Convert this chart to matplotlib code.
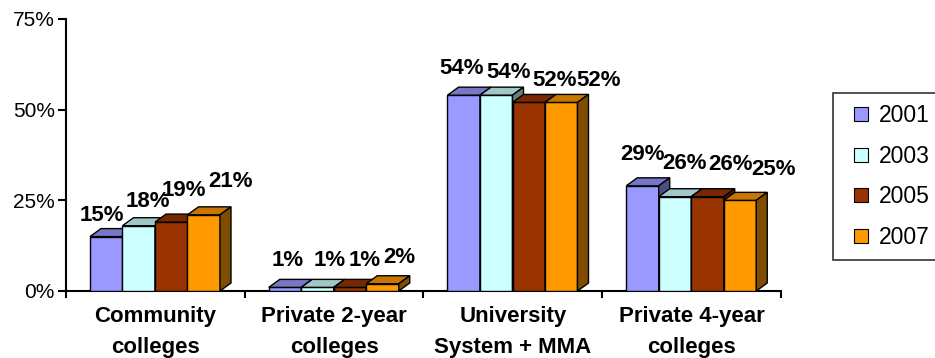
import matplotlib
matplotlib.use("Agg")
import matplotlib.pyplot as plt
from matplotlib.patches import Polygon, Rectangle
from matplotlib.lines import Line2D
from matplotlib.colors import to_rgb

plt.rcParams['font.family'] = ['Liberation Sans', 'DejaVu Sans']

categories = ["Community\ncolleges", "Private 2-year\ncolleges",
              "University\nSystem + MMA", "Private 4-year\ncolleges"]
years = ["2001", "2003", "2005", "2007"]
share_2001 = [15, 1, 54, 29]
share_2003 = [18, 1, 54, 26]
share_2005 = [19, 1, 52, 26]
share_2007 = [21, 2, 52, 25]
series = [share_2001, share_2003, share_2005, share_2007]
colors = ["#9999FF", "#CCFFFF", "#993300", "#FF9900"]
y_ticks = [0, 25, 50, 75]

# value-label placement relative to each bar's front top (pixels), [category][series]
label_shift_x = [[-4, 9, 13, 27],
                 [3, 12, 15, 17],
                 [-2, 12, 26, 37],
                 [0, 10, 23, 34]]
label_shift_y = [[21, 24, 32, 33],
                 [27, 27, 27, 26],
                 [27, 23, 22, 22],
                 [31, 33, 32, 31]]

W, H = 935, 358
fig = plt.figure(figsize=(W / 100, H / 100), dpi=100)
ax_l, ax_b, ax_w, ax_h = 66, 67, 715, 272
ax = fig.add_axes([ax_l / W, ax_b / H, ax_w / W, ax_h / H])
ax.set_xlim(0, len(categories))
ax.set_ylim(0, 75)

# pixel -> data scale factors
px_x = len(categories) / ax_w
px_y = 75 / ax_h

gap_px, bar_px = 24, 32.5
depth_x, depth_y = 11 * px_x, 8 * px_y


def shade(c, f):
    r, g, b = to_rgb(c)
    return (r * f, g * f, b * f)


for i in range(len(categories)):
    for j, vals in enumerate(series):
        v = vals[i]
        x0 = i + gap_px * px_x + j * bar_px * px_x
        w = bar_px * px_x
        c = colors[j]
        kw = dict(edgecolor="black", linewidth=1.0, joinstyle="miter", zorder=3 + i * 4 + j)
        ax.add_patch(Rectangle((x0, 0), w, v, facecolor=c, **kw))
        ax.add_patch(Polygon([(x0, v), (x0 + w, v), (x0 + w + depth_x, v + depth_y),
                              (x0 + depth_x, v + depth_y)], closed=True,
                             facecolor=shade(c, 0.78), **kw))
        ax.add_patch(Polygon([(x0 + w, 0), (x0 + w + depth_x, depth_y),
                              (x0 + w + depth_x, v + depth_y), (x0 + w, v)], closed=True,
                             facecolor=shade(c, 0.5), **kw))
        ax.annotate(f"{v}%", xy=(x0 + w / 2, v),
                    xytext=(label_shift_x[i][j] * 0.72, label_shift_y[i][j] * 0.72),
                    textcoords="offset points",
                    ha="center", va="center", fontsize=16, fontweight="bold", zorder=50)

for s in ["top", "right"]:
    ax.spines[s].set_visible(False)
for s in ["left", "bottom"]:
    ax.spines[s].set_linewidth(1.5)
    ax.spines[s].set_color("black")

ax.set_yticks(y_ticks)
ax.set_yticklabels([f"{t}%" for t in y_ticks])
ax.tick_params(axis="y", direction="out", length=6, width=1.5, pad=2, labelsize=15)

ax.set_xticks(range(len(categories) + 1))
ax.set_xticklabels([])
ax.tick_params(axis="x", which="major", direction="out", length=5, width=1.5)
ax.set_xticks([i + 0.5 for i in range(len(categories))], minor=True)
ax.set_xticklabels(categories, minor=True, fontsize=16, fontweight="bold", linespacing=1.6)
ax.tick_params(axis="x", which="minor", length=0, pad=11)

handles = [Line2D([], [], marker="s", markersize=10, linestyle="none",
                  markerfacecolor=c, markeredgecolor="black", markeredgewidth=0.8)
           for c in colors]
leg = fig.legend(handles, years, loc="upper left",
                 bbox_to_anchor=(833 / W, 0, 130 / W, 1 - 93 / H), mode="expand",
                 borderaxespad=0, fontsize=16.5, frameon=True, fancybox=False,
                 handlelength=1.43, handletextpad=0.07, labelspacing=0.76, borderpad=0.5)
leg.get_frame().set_edgecolor("black")
leg.get_frame().set_linewidth(1.2)

fig.savefig("out.png", dpi=100)
